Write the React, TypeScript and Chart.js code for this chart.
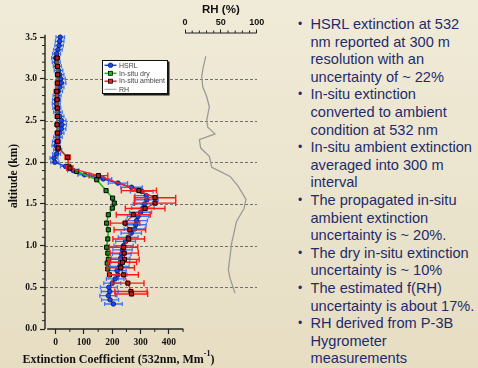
import React, { useEffect, useRef } from "react";
import { Chart, registerables } from "chart.js";
Chart.register(...registerables);

// ---------- DATA ----------
const hsrlAlt = [3.5, 3.45, 3.4, 3.35, 3.3, 3.25, 3.2, 3.15, 3.1, 3.05, 3.0, 2.95, 2.9, 2.85, 2.8, 2.75, 2.7, 2.65, 2.6, 2.55, 2.5, 2.45, 2.4, 2.35, 2.3, 2.25, 2.2, 2.15, 2.1, 2.05, 2.0, 1.95, 1.9, 1.85, 1.8, 1.75, 1.7, 1.65, 1.6, 1.55, 1.5, 1.45, 1.4, 1.35, 1.3, 1.25, 1.2, 1.15, 1.1, 1.05, 1.0, 0.95, 0.9, 0.85, 0.8, 0.75, 0.7, 0.65, 0.6, 0.55, 0.5, 0.45, 0.4, 0.35, 0.3];
const hsrlExt = [16, 14, 12, 8, 3, 0, 2, 6, 10, 14, 18, 20, 14, 9, 5, 3, 2, 4, 8, 14, 20, 22, 20, 14, 8, 3, 1, 7, 3, -6, -3, 35, 62, 102, 168, 220, 268, 304, 320, 322, 314, 308, 300, 291, 286, 283, 279, 267, 256, 247, 240, 236, 233, 230, 228, 226, 217, 220, 210, 200, 188, 191, 186, 192, 204];
const hsrlErr = [15, 15, 15, 15, 14, 14, 14, 14, 15, 15, 16, 16, 15, 15, 14, 14, 14, 14, 15, 15, 16, 16, 16, 15, 15, 14, 14, 14, 14, 14, 14, 18, 20, 24, 30, 34, 38, 40, 40, 40, 40, 40, 39, 38, 38, 37, 37, 36, 35, 35, 34, 34, 33, 33, 33, 33, 32, 32, 31, 30, 30, 30, 30, 30, 31];

const dryAlt = [3.25, 3.15, 3.05, 2.95, 2.85, 2.75, 2.65, 2.55, 2.45, 2.35, 2.25, 2.17, 2.06, 1.95, 1.89, 1.79, 1.66, 1.57, 1.51, 1.45, 1.37, 1.27, 1.19, 1.08, 0.98, 0.91, 0.835, 0.79, 0.72, 0.65];
const dryExt = [5, 6, 7, 6, 4, 5, 6, 6, 5, 6, 7, 9, 42, 46, 74, 145, 178, 201, 207, 200, 186, 180, 186, 184, 180, 184, 186, 182, 184, 190];

const ambAlt = [3.25, 3.15, 3.05, 2.95, 2.85, 2.75, 2.65, 2.55, 2.45, 2.35, 2.25, 2.17, 2.06, 1.93, 1.84, 1.66, 1.575, 1.51, 1.445, 1.37, 1.27, 1.19, 1.08, 0.98, 0.91, 0.835, 0.8, 0.735, 0.65, 0.55, 0.45, 0.42];
const ambExt = [5, 6, 7, 6, 4, 5, 6, 6, 5, 6, 7, 9, 42, 50, 151, 294, 351, 351, 316, 274, 245, 262, 258, 240, 242, 243, 236, 230, 240, 255, 266, 268];
const ambErr = [1, 1, 2, 1, 1, 1, 1, 1, 1, 1, 2, 2, 9, 11, 33, 62, 73, 73, 70, 60, 52, 56, 56, 50, 50, 52, 50, 48, 52, 57, 57, 57];

const rhAlt = [3.27, 3.145, 3.03, 2.905, 2.785, 2.665, 2.505, 2.42, 2.34, 2.27, 2.17, 2.07, 1.94, 1.89, 1.83, 1.71, 1.555, 1.445, 1.29, 1.15, 1.03, 0.87, 0.71, 0.61, 0.43];
const rhVal = [29, 25.5, 23.3, 24.7, 30.3, 33.9, 30.3, 31.7, 41.8, 20, 21.9, 33.9, 37.2, 48.8, 62.8, 74.3, 85, 82.3, 71.8, 68.2, 65, 62.8, 60.4, 62.8, 69.7];

const extTicks = [0, 100, 200, 300, 400];
const extMinorTicks = [50, 150, 250, 350, 450];
const altTicks = [0, 0.5, 1.0, 1.5, 2.0, 2.5, 3.0, 3.5];
const altGrid = [0.5, 1.0, 1.5, 2.0, 2.5, 3.0];
const rhTicks = [0, 50, 100];
const rhMinorTicks = [10, 20, 30, 40, 60, 70, 80, 90];

const labels = ["HSRL", "In-situ dry", "In-situ ambient", "RH"];
const xTitle = "Extinction Coefficient (532nm, Mm";
const xTitleSup = "-1";
const yTitle = "altitude (km)";
const rhTitle = "RH (%)";

const bulletLines = [
  { b: true, t: "HSRL extinction at 532" },
  { b: false, t: "nm reported at 300 m" },
  { b: false, t: "resolution with an" },
  { b: false, t: "uncertainty of ~ 22%" },
  { b: true, t: "In-situ extinction" },
  { b: false, t: "converted to ambient" },
  { b: false, t: "condition at 532 nm" },
  { b: true, t: "In-situ ambient extinction" },
  { b: false, t: "averaged into 300 m" },
  { b: false, t: "interval" },
  { b: true, t: "The propagated in-situ" },
  { b: false, t: "ambient extinction" },
  { b: false, t: "uncertainty is ~ 20%." },
  { b: true, t: "The dry in-situ extinction" },
  { b: false, t: "uncertainty is ~ 10%" },
  { b: true, t: "The estimated f(RH)" },
  { b: false, t: "uncertainty is about 17%." },
  { b: true, t: "RH derived from P-3B" },
  { b: false, t: "Hygrometer" },
  { b: false, t: "measurements" },
];

// ---------- COLORS ----------
const C_HSRL = "#1846E8";
const C_HSRL_ERR = "#3F72F7";
const C_DRY = "#10C810";
const C_AMB = "#FF1A1A";
const C_RH = "#9A9A9A";
const SERIF = '"Liberation Serif", "Times New Roman", serif';
const SANS = '"Liberation Sans", Arial, sans-serif';

function drawErr(chart: any, alts: number[], exts: number[], errs: number[], color: string, cap: number, width: number) {
  const { ctx } = chart;
  const xs = chart.scales.x, ys = chart.scales.y;
  ctx.save();
  ctx.strokeStyle = color;
  ctx.lineWidth = width;
  ctx.setLineDash([]);
  for (let i = 0; i < alts.length; i++) {
    const py = ys.getPixelForValue(alts[i]);
    const a = xs.getPixelForValue(exts[i] - errs[i]);
    const b = xs.getPixelForValue(exts[i] + errs[i]);
    ctx.beginPath();
    ctx.moveTo(a, py); ctx.lineTo(b, py);
    ctx.moveTo(a, py - cap); ctx.lineTo(a, py + cap);
    ctx.moveTo(b, py - cap); ctx.lineTo(b, py + cap);
    ctx.stroke();
  }
  ctx.restore();
}

const decorPlugin = {
  id: "decor",
  beforeDatasetsDraw(chart: any) {
    const { ctx, chartArea } = chart;
    const xs = chart.scales.x, ys = chart.scales.y, x2 = chart.scales.x2;
    ctx.save();
    // dashed grid lines
    ctx.strokeStyle = "#707070";
    ctx.lineWidth = 1;
    ctx.setLineDash([3, 2]);
    for (const v of altGrid) {
      const py = Math.round(ys.getPixelForValue(v)) + 0.5;
      ctx.beginPath(); ctx.moveTo(chartArea.left, py); ctx.lineTo(chartArea.right, py); ctx.stroke();
    }
    ctx.setLineDash([]);
    ctx.strokeStyle = "#222";
    ctx.lineWidth = 1.4;
    // y axis line
    const yx = chartArea.left;
    ctx.beginPath(); ctx.moveTo(yx, ys.getPixelForValue(0)); ctx.lineTo(yx, ys.getPixelForValue(3.53)); ctx.stroke();
    // y minor ticks
    ctx.lineWidth = 1;
    for (let k = 0; k <= 35; k++) {
      if (k % 5 === 0) continue;
      const py = ys.getPixelForValue(k / 10);
      ctx.beginPath(); ctx.moveTo(yx, py); ctx.lineTo(yx - 3, py); ctx.stroke();
    }
    // x axis line
    ctx.lineWidth = 1.4;
    const by = chartArea.bottom;
    ctx.beginPath(); ctx.moveTo(xs.getPixelForValue(-30), by); ctx.lineTo(xs.getPixelForValue(451), by); ctx.stroke();
    ctx.lineWidth = 1;
    for (const v of extMinorTicks) {
      const px = xs.getPixelForValue(v);
      ctx.beginPath(); ctx.moveTo(px, by); ctx.lineTo(px, by + 3); ctx.stroke();
    }
    // RH axis line
    const ty = chartArea.top;
    ctx.lineWidth = 1.2;
    ctx.beginPath(); ctx.moveTo(x2.getPixelForValue(0), ty); ctx.lineTo(x2.getPixelForValue(100), ty); ctx.stroke();
    ctx.lineWidth = 1;
    for (const v of rhMinorTicks) {
      const px = x2.getPixelForValue(v);
      ctx.beginPath(); ctx.moveTo(px, ty); ctx.lineTo(px, ty - 2.5); ctx.stroke();
    }
    ctx.restore();
  },
  beforeDatasetDraw(chart: any, args: any) {
    const lab = chart.data.datasets[args.index].label;
    if (lab === labels[0]) drawErr(chart, hsrlAlt, hsrlExt, hsrlErr, C_HSRL_ERR, 2, 1.3);
    if (lab === labels[2]) drawErr(chart, ambAlt, ambExt, ambErr, C_AMB, 3, 1.4);
  },
  afterDraw(chart: any) {
    const { ctx, chartArea } = chart;
    const xs = chart.scales.x, x2 = chart.scales.x2;
    ctx.save();
    ctx.fillStyle = "#111";
    // y title
    ctx.save();
    ctx.translate(14, 176);
    ctx.rotate(-Math.PI / 2);
    ctx.font = `bold 11.5px ${SERIF}`;
    ctx.textAlign = "center";
    ctx.textBaseline = "middle";
    ctx.fillText(yTitle, 0, 0);
    ctx.restore();
    // x title
    ctx.font = `bold 12px ${SERIF}`;
    const w1 = ctx.measureText(xTitle).width;
    ctx.font = `bold 8px ${SERIF}`;
    const w2 = ctx.measureText(xTitleSup).width;
    ctx.font = `bold 12px ${SERIF}`;
    const w3 = ctx.measureText(")").width;
    const total = w1 + w2 + w3;
    let sx = 118.5 - total / 2;
    ctx.textAlign = "left";
    ctx.textBaseline = "alphabetic";
    const base = 362.5;
    ctx.fillText(xTitle, sx, base);
    sx += w1;
    ctx.font = `bold 8px ${SERIF}`;
    ctx.fillText(xTitleSup, sx, base - 7);
    sx += w2;
    ctx.font = `bold 12px ${SERIF}`;
    ctx.fillText(")", sx, base);
    // RH title
    ctx.font = `bold 11.5px ${SANS}`;
    ctx.textAlign = "center";
    ctx.textBaseline = "middle";
    ctx.fillText(rhTitle, (x2.getPixelForValue(0) + x2.getPixelForValue(100)) / 2, 10);
    // legend
    const lx = 102, ly = 60, lw = 66, lh = 34;
    ctx.fillStyle = "#1a1a1a";
    ctx.fillRect(lx + 1.5, ly + 1.5, lw, lh);
    ctx.fillStyle = "#ffffff";
    ctx.fillRect(lx, ly, lw, lh);
    ctx.strokeStyle = "#111";
    ctx.lineWidth = 1;
    ctx.strokeRect(lx + 0.5, ly + 0.5, lw - 1, lh - 1);
    const rows = [65.3, 73.3, 81.2, 89.3];
    const cols = [C_HSRL, C_DRY, C_AMB, C_RH];
    for (let i = 0; i < 4; i++) {
      const y = rows[i];
      ctx.strokeStyle = cols[i];
      ctx.lineWidth = i === 3 ? 1 : 1.5;
      ctx.beginPath(); ctx.moveTo(104.5, y); ctx.lineTo(116.5, y); ctx.stroke();
      if (i === 0) {
        ctx.fillStyle = C_HSRL; ctx.strokeStyle = "#0A1A60"; ctx.lineWidth = 0.8;
        ctx.beginPath(); ctx.arc(110.5, y, 2.3, 0, Math.PI * 2); ctx.fill(); ctx.stroke();
      } else if (i < 3) {
        ctx.fillStyle = cols[i]; ctx.strokeStyle = "#000"; ctx.lineWidth = 0.8;
        ctx.fillRect(108.5, y - 2, 4, 4); ctx.strokeRect(108.5, y - 2, 4, 4);
      }
      ctx.fillStyle = "#444";
      ctx.font = `7px ${SANS}`;
      ctx.textAlign = "left";
      ctx.textBaseline = "middle";
      ctx.fillText(labels[i], 119, y + 0.3);
    }
    ctx.restore();
  },
};

export default function App() {
  const ref = useRef<HTMLCanvasElement>(null);
  useEffect(() => {
    const canvas = ref.current!;
    const chart = new Chart(canvas, {
      type: "scatter",
      data: {
        datasets: [
          {
            label: labels[2],
            data: ambAlt.map((a, i) => ({ x: ambExt[i], y: a })),
            showLine: true,
            borderColor: C_AMB,
            borderWidth: 1.3,
            pointStyle: "rect",
            pointRadius: 2.9,
            pointBackgroundColor: "#C01818",
            pointBorderColor: "#000",
            pointBorderWidth: 1,
            xAxisID: "x",
          },
          {
            label: labels[1],
            data: dryAlt.map((a, i) => ({ x: dryExt[i], y: a })),
            showLine: true,
            borderColor: C_DRY,
            borderWidth: 1.6,
            pointStyle: "rect",
            pointRadius: 2.9,
            pointBackgroundColor: "#1A8A1A",
            pointBorderColor: "#000",
            pointBorderWidth: 1,
            xAxisID: "x",
          },
          {
            label: labels[0],
            data: hsrlAlt.map((a, i) => ({ x: hsrlExt[i], y: a })),
            showLine: true,
            borderColor: C_HSRL,
            borderWidth: 1.5,
            pointStyle: "circle",
            pointRadius: 2.3,
            pointBackgroundColor: C_HSRL,
            pointBorderColor: "#0A1A60",
            pointBorderWidth: 0.8,
            xAxisID: "x",
          },
          {
            label: labels[3],
            data: rhAlt.map((a, i) => ({ x: rhVal[i], y: a })),
            showLine: true,
            borderColor: C_RH,
            borderWidth: 1.3,
            pointRadius: 0,
            xAxisID: "x2",
          },
        ],
      },
      options: {
        animation: false,
        responsive: false,
        maintainAspectRatio: false,
        layout: { padding: { left: 0, right: 33, top: 0, bottom: 0 } },
        plugins: { legend: { display: false }, tooltip: { enabled: false } },
        scales: {
          x: {
            type: "linear",
            position: "bottom",
            min: -37.8,
            max: 711.3,
            afterBuildTicks: (s: any) => { s.ticks = extTicks.map((v) => ({ value: v })); },
            afterFit: (s: any) => { s.height = 39; },
            grid: { drawOnChartArea: false, drawTicks: true, tickLength: 5, tickColor: "#222", tickWidth: 1.2 },
            border: { display: false },
            ticks: { font: { family: SERIF, weight: "bold", size: 9.5 }, color: "#111", padding: 3, maxRotation: 0, autoSkip: false, callback: (v: any) => String(v) },
          },
          x2: {
            type: "linear",
            position: "top",
            min: -195.3,
            max: 100.4,
            afterBuildTicks: (s: any) => { s.ticks = rhTicks.map((v) => ({ value: v })); },
            afterFit: (s: any) => { s.height = 33; },
            grid: { drawOnChartArea: false, drawTicks: true, tickLength: 3.5, tickColor: "#222", tickWidth: 1 },
            border: { display: false },
            ticks: { font: { family: SANS, weight: "bold", size: 9 }, color: "#111", padding: 1.5, maxRotation: 0, autoSkip: false, callback: (v: any) => String(v) },
          },
          y: {
            type: "linear",
            position: "left",
            min: 0,
            max: 3.55,
            afterBuildTicks: (s: any) => { s.ticks = altTicks.map((v) => ({ value: v })); },
            afterFit: (s: any) => { s.width = 45; },
            grid: { drawOnChartArea: false, drawTicks: true, tickLength: 5, tickColor: "#222", tickWidth: 1.2 },
            border: { display: false },
            ticks: { font: { family: SERIF, weight: "bold", size: 9.5 }, color: "#111", padding: 3, autoSkip: false, callback: (v: any) => Number(v).toFixed(1) },
          },
        },
      },
      plugins: [decorPlugin],
    } as any);
    return () => chart.destroy();
  }, []);

  return (
    <div style={{ position: "fixed", left: 0, top: 0, width: 478, height: 368, overflow: "hidden", background: "linear-gradient(180deg, #F0EBD8 0%, #EAE3CC 60%, #E6DDC2 100%)" }}>
      <canvas ref={ref} width={290} height={368} style={{ position: "absolute", left: 0, top: 0, width: 290, height: 368 }} />
      {bulletLines.map((l, i) => (
        <div
          key={i}
          style={{
            position: "absolute",
            left: 310.5,
            top: 24 + i * 17.6 - 9,
            height: 18,
            lineHeight: "18px",
            fontFamily: SANS,
            fontSize: 14.6,
            color: "#1E2C6B",
            whiteSpace: "nowrap",
          }}
        >
          {l.b && <span style={{ position: "absolute", left: -12.5, top: 0, fontSize: 12 }}>•</span>}
          {l.t}
        </div>
      ))}
    </div>
  );
}
